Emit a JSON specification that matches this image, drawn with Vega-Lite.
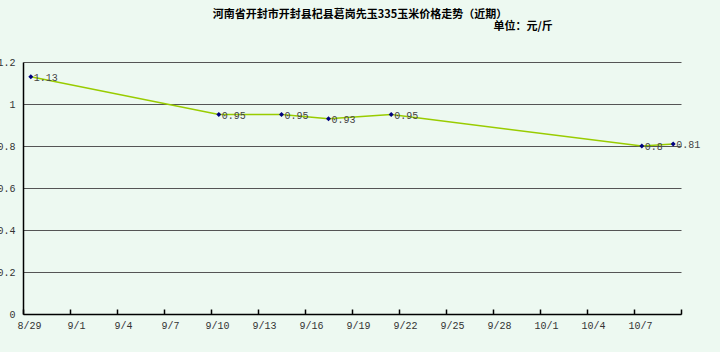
{
  "$schema": "https://vega.github.io/schema/vega-lite/v6.json",
  "width": 658,
  "height": 252,
  "autosize": {"type": "none"},
  "padding": {"left": 23, "top": 62, "right": 39, "bottom": 38},
  "background": "#EDF9F1",
  "config": {
    "view": {"stroke": null},
    "font": "Noto Sans CJK SC"
  },
  "title": {
    "text": "河南省开封市开封县杞县葛岗先玉335玉米价格走势（近期）",
    "anchor": "middle",
    "frame": "group",
    "dx": 8,
    "offset": 0,
    "fontSize": 11,
    "fontWeight": "bold",
    "color": "#000000",
    "font": "Noto Sans CJK SC"
  },
  "data": {
    "values": [
      {"date": "2014-08-29", "price": 1.13},
      {"date": "2014-09-10", "price": 0.95},
      {"date": "2014-09-14", "price": 0.95},
      {"date": "2014-09-17", "price": 0.93},
      {"date": "2014-09-21", "price": 0.95},
      {"date": "2014-10-07", "price": 0.8},
      {"date": "2014-10-09", "price": 0.81}
    ]
  },
  "encoding": {
    "x": {
      "field": "date",
      "type": "temporal",
      "timeUnit": "yearmonthdate",
      "bandPosition": 0.5,
      "scale": {
        "domain": [
          {"year": 2014, "month": 8, "date": 29},
          {"year": 2014, "month": 10, "date": 10}
        ]
      },
      "axis": {
        "title": null,
        "grid": false,
        "values": [
          {"year": 2014, "month": 8, "date": 29},
          {"year": 2014, "month": 9, "date": 1},
          {"year": 2014, "month": 9, "date": 4},
          {"year": 2014, "month": 9, "date": 7},
          {"year": 2014, "month": 9, "date": 10},
          {"year": 2014, "month": 9, "date": 13},
          {"year": 2014, "month": 9, "date": 16},
          {"year": 2014, "month": 9, "date": 19},
          {"year": 2014, "month": 9, "date": 22},
          {"year": 2014, "month": 9, "date": 25},
          {"year": 2014, "month": 9, "date": 28},
          {"year": 2014, "month": 10, "date": 1},
          {"year": 2014, "month": 10, "date": 4},
          {"year": 2014, "month": 10, "date": 7},
          {"year": 2014, "month": 10, "date": 10}
        ],
        "labelExpr": "timeFormat(datum.value, '%-m/%-d') == '10/10' ? '' : timeFormat(datum.value, '%-m/%-d')",
        "domainColor": "#000000",
        "domainWidth": 1.5,
        "tickColor": "#000000",
        "tickWidth": 1.5,
        "tickSize": -5,
        "labelPadding": 11,
        "labelOffset": 6,
        "labelFont": "Liberation Mono",
        "labelFontSize": 10,
        "labelColor": "#333333",
        "labelFlush": false,
        "labelOverlap": false
      }
    },
    "y": {
      "field": "price",
      "type": "quantitative",
      "scale": {"domain": [0, 1.2], "nice": false, "zero": true},
      "axis": {
        "title": "单位：元/斤",
        "titleAngle": 0,
        "titleAlign": "left",
        "titleBaseline": "middle",
        "titleX": 470,
        "titleY": -36,
        "titleFontSize": 11,
        "titleFontWeight": "bold",
        "titleColor": "#000000",
        "titleFont": "Noto Sans CJK SC",
        "values": [0, 0.2, 0.4, 0.6, 0.8, 1, 1.2],
        "labelExpr": "datum.value == 0 ? '0' : datum.value == 1 ? '1' : format(datum.value, '.1f')",
        "grid": true,
        "gridColor": "#555555",
        "gridWidth": 1,
        "gridOpacity": 1,
        "ticks": false,
        "labelPadding": 8,
        "domainColor": "#000000",
        "domainWidth": 1.5,
        "labelFont": "Liberation Mono",
        "labelFontSize": 10,
        "labelColor": "#333333",
        "labelFlush": false
      }
    }
  },
  "layer": [
    {
      "mark": {"type": "line", "color": "#99CC00", "strokeWidth": 1.5}
    },
    {
      "mark": {"type": "point", "shape": "diamond", "filled": true, "color": "#000080", "size": 25, "opacity": 1}
    },
    {
      "mark": {"type": "text", "align": "left", "baseline": "middle", "dx": 3, "dy": 1, "font": "Liberation Mono", "fontSize": 10, "color": "#444444"},
      "encoding": {"text": {"field": "price", "type": "quantitative"}}
    }
  ]
}
